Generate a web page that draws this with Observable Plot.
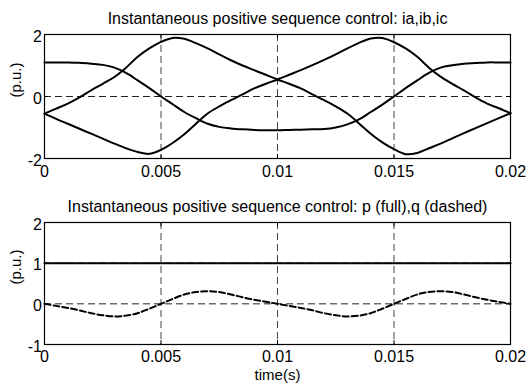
<!DOCTYPE html>
<html><head><meta charset="utf-8">
<script src="https://cdn.jsdelivr.net/npm/d3@7"></script>
<script src="https://cdn.jsdelivr.net/npm/@observablehq/plot@0.6"></script>
<style>body{margin:0;background:#fff} #chart svg{display:block}</style>
</head><body><div id="chart"></div>
<script>
const time = [0,0.0005,0.001,0.0015,0.002,0.0025,0.003,0.0035,0.004,0.0045,0.005,0.0055,0.006,0.0065,0.007,0.0075,0.008,0.0085,0.009,0.0095,0.01,0.0105,0.011,0.0115,0.012,0.0125,0.013,0.0135,0.014,0.0145,0.015,0.0155,0.016,0.0165,0.017,0.0175,0.018,0.0185,0.019,0.0195,0.02];
const ia = [1.10,1.10,1.10,1.09,1.06,1.02,0.93,0.76,0.52,0.27,0.00,-0.25,-0.50,-0.70,-0.88,-0.98,-1.03,-1.06,-1.08,-1.09,-1.09,-1.08,-1.07,-1.06,-1.05,-1.00,-0.90,-0.74,-0.50,-0.26,0.00,0.27,0.52,0.76,0.93,1.01,1.06,1.08,1.10,1.10,1.10];
const ib = [-0.55,-0.39,-0.23,-0.03,0.20,0.41,0.63,0.93,1.28,1.55,1.76,1.89,1.86,1.72,1.55,1.36,1.17,1.00,0.85,0.70,0.55,0.41,0.26,0.07,-0.12,-0.32,-0.55,-0.87,-1.20,-1.48,-1.70,-1.86,-1.82,-1.67,-1.52,-1.35,-1.18,-1.02,-0.86,-0.70,-0.54];
const ic = [-0.55,-0.72,-0.88,-1.04,-1.20,-1.36,-1.52,-1.67,-1.79,-1.85,-1.72,-1.50,-1.22,-0.88,-0.55,-0.32,-0.12,0.07,0.26,0.41,0.55,0.70,0.85,1.01,1.18,1.36,1.55,1.73,1.87,1.89,1.75,1.55,1.28,0.93,0.64,0.41,0.20,-0.03,-0.23,-0.38,-0.54];
const pTime = [0,0.005,0.01,0.015,0.02];
const pVal = [1,1,1,1,1];
const q = [0,-0.05,-0.10,-0.16,-0.23,-0.28,-0.31,-0.29,-0.23,-0.12,0,0.12,0.23,0.29,0.31,0.29,0.23,0.16,0.10,0.05,0,-0.05,-0.10,-0.16,-0.23,-0.28,-0.31,-0.29,-0.23,-0.12,0,0.12,0.23,0.29,0.31,0.29,0.23,0.16,0.10,0.05,0];
const xTicks = [0,0.005,0.01,0.015,0.02];
const xGrid = [0.005,0.01,0.015];
const yTicksTop = [-2,0,2];
const yGridTop = [0];
const yTicksBot = [-1,0,1,2];
const yGridBot = [0,1];
const titleTop = "Instantaneous positive sequence control: ia,ib,ic";
const titleBot = "Instantaneous positive sequence control: p (full),q (dashed)";
const yLabel = "(p.u.)";
const xLabel = "time(s)";

const font = "'Liberation Sans', Arial, Helvetica, sans-serif";
const W = 527, ML = 44, MR = 17;
const series = (ts, vs) => ts.map((t, i) => ({t, v: vs[i]}));
const fmt = d => String(d);

function panel({height, mt, mb, ydom, yTicks, yGrid, title, lines, xlab, xpad}) {
  const ph = height - mt - mb, pw = W - ML - MR;
  const marks = [
    Plot.ruleX(xGrid, {x: d => d, stroke: "#444", strokeWidth: 1, strokeDasharray: "7,4"}),
    Plot.ruleY(yGrid, {y: d => d, stroke: "#222", strokeWidth: 1, strokeDasharray: "7,4"}),
    Plot.tickX(xTicks, {x: d => d, insetTop: ph - 4, stroke: "black"}),
    Plot.tickX(xTicks, {x: d => d, insetBottom: ph - 4, stroke: "black"}),
    Plot.tickY(yTicks, {y: d => d, insetRight: pw - 4, stroke: "black"}),
    Plot.tickY(yTicks, {y: d => d, insetLeft: pw - 4, stroke: "black"}),
    ...lines,
    Plot.frame({stroke: "black", strokeWidth: 1.2}),
    Plot.axisX(xTicks, {tickSize: 0, tickPadding: xpad, tickFormat: fmt, fontSize: 16}),
    Plot.axisY(yTicks, {tickSize: 0, tickPadding: 2.5, tickFormat: fmt, fontSize: 16, dy: 2}),
    Plot.text([title], {frameAnchor: "top", lineAnchor: "bottom", dy: -11, fontSize: 16, fill: "black"}),
    Plot.text([yLabel], {frameAnchor: "left", rotate: -90, dx: -28, dy: 1, fontSize: 15, fill: "black"})
  ];
  if (xlab) marks.push(Plot.text([xlab], {frameAnchor: "bottom", lineAnchor: "bottom", dy: 35.2, fontSize: 15, fill: "black"}));
  return Plot.plot({
    width: W, height, marginLeft: ML, marginRight: MR, marginTop: mt, marginBottom: mb,
    x: {domain: [0, 0.02], label: null},
    y: {domain: ydom, label: null},
    style: {fontFamily: font, color: "black", background: "white", overflow: "visible"},
    marks
  });
}

const topPanel = panel({
  height: 190, mt: 34, mb: 32, ydom: [-2, 2], yTicks: yTicksTop, yGrid: yGridTop, title: titleTop, xpad: 7.5,
  lines: [ia, ib, ic].map(s => Plot.line(series(time, s), {x: "t", y: "v", stroke: "black", strokeWidth: 2, curve: "catmull-rom"}))
});
const botPanel = panel({
  height: 193, mt: 32, mb: 39, ydom: [-1, 2], yTicks: yTicksBot, yGrid: yGridBot, title: titleBot, xlab: xLabel, xpad: 6.5,
  lines: [
    Plot.line(series(pTime, pVal), {x: "t", y: "v", stroke: "black", strokeWidth: 2}),
    Plot.line(series(time, q), {x: "t", y: "v", stroke: "black", strokeWidth: 2, strokeDasharray: "6,3", curve: "catmull-rom"})
  ]
});
document.getElementById("chart").append(topPanel, botPanel);
</script></body></html>
